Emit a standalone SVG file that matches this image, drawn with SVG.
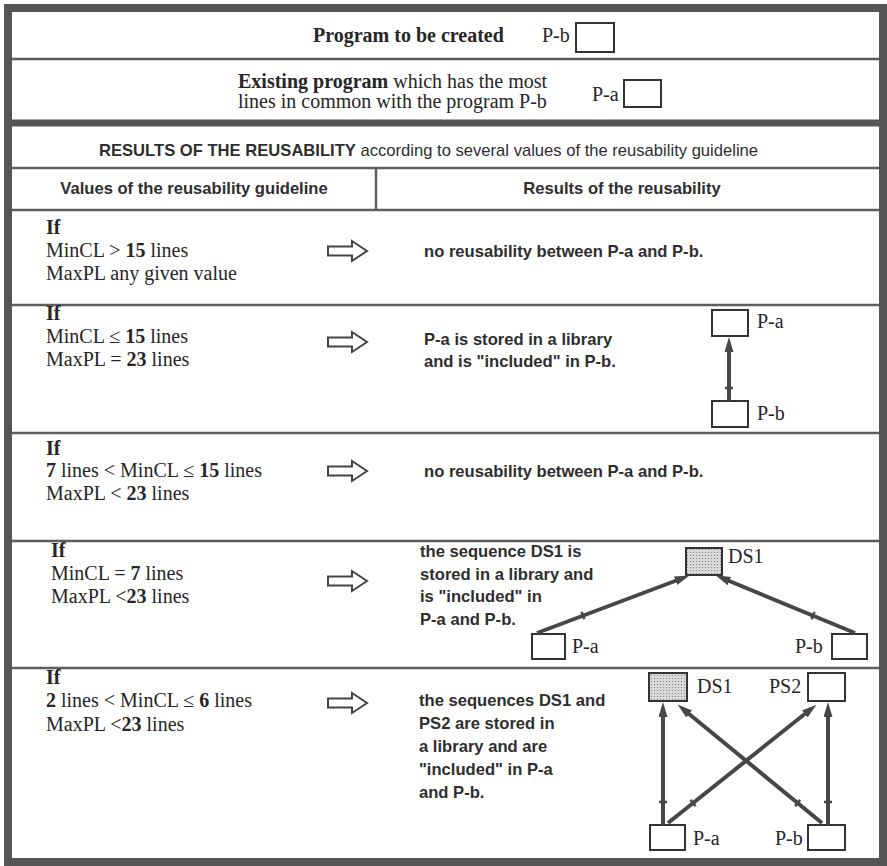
<svg xmlns="http://www.w3.org/2000/svg" width="887" height="866" viewBox="0 0 887 866">
<style>
.serif{font-family:"Liberation Serif","Times New Roman",serif;font-size:20px;fill:#262626}
.sans{font-family:"Liberation Sans",Arial,sans-serif;font-size:16.6px;font-weight:bold;fill:#2e2e2e}
.b{font-weight:bold}
.rule{stroke:#5e5e5e;stroke-width:2.5;fill:none}
.box{fill:#fff;stroke:#333;stroke-width:2}
.shaded{stroke:#333;stroke-width:2}
.hollow{fill:#fff;stroke:#444;stroke-width:2;stroke-linejoin:miter}
.link{stroke:#474747;stroke-width:4;fill:none}
.tick{stroke:#474747;stroke-width:2.5;fill:none}
</style>
<defs>
<marker id="ah" markerWidth="15" markerHeight="9" refX="8" refY="4.5" orient="auto" markerUnits="userSpaceOnUse">
<path d="M0,0 L15,4.5 L0,9 Z" fill="#474747"/>
</marker>
<pattern id="stip" width="3" height="3" patternUnits="userSpaceOnUse">
<rect width="3" height="3" fill="#d8d8d8"/>
<rect width="1" height="1" fill="#8a8a8a"/>
</pattern>
</defs>
<rect width="887" height="866" fill="#fff"/>

<g id="frame">
<rect x="8" y="8" width="875" height="854" fill="none" stroke="#555" stroke-width="8"/>
<line class="rule" x1="12" y1="59" x2="879" y2="59"/>
<line x1="12" y1="123" x2="879" y2="123" stroke="#555" stroke-width="7"/>
<line class="rule" x1="12" y1="168" x2="879" y2="168"/>
<line class="rule" x1="376" y1="168" x2="376" y2="210"/>
<line class="rule" x1="12" y1="210" x2="879" y2="210"/>
<line class="rule" x1="12" y1="305" x2="879" y2="305"/>
<line class="rule" x1="12" y1="433" x2="879" y2="433"/>
<line class="rule" x1="12" y1="541" x2="879" y2="541"/>
<line class="rule" x1="12" y1="668" x2="879" y2="668"/>
</g>

<g id="header-program">
<text class="serif b" x="313" y="42">Program to be created</text>
<text class="serif" x="542" y="42">P-b</text>
<rect class="box" x="576" y="23" width="38" height="29"/>
</g>

<g id="header-existing">
<text class="serif" x="238" y="88"><tspan class="b">Existing program</tspan> which has the most</text>
<text class="serif" x="238" y="108">lines in common with the program P-b</text>
<text class="serif" x="592" y="101">P-a</text>
<rect class="box" x="624" y="80" width="37" height="27"/>
</g>

<g id="header-results">
<text class="sans" x="99" y="156">RESULTS OF THE REUSABILITY<tspan font-weight="normal"> according to several values of the reusability guideline</tspan></text>
<text class="sans" x="194" y="194" text-anchor="middle">Values of the reusability guideline</text>
<text class="sans" x="622" y="194" text-anchor="middle">Results of the reusability</text>
</g>

<g id="row1">
<text class="serif b" x="46" y="234">If</text>
<text class="serif" x="46" y="257">MinCL &gt; <tspan class="b">15</tspan> lines</text>
<text class="serif" x="46" y="280">MaxPL any given value</text>
<path class="hollow" d="M328,246.5 H352 V241 L367,251 L352,261 V255.5 H328 Z"/>
<text class="sans" x="424" y="257">no reusability between P-a and P-b.</text>
</g>

<g id="row2">
<text class="serif b" x="46" y="320">If</text>
<text class="serif" x="46" y="343">MinCL ≤ <tspan class="b">15</tspan> lines</text>
<text class="serif" x="46" y="366">MaxPL = <tspan class="b">23</tspan> lines</text>
<path class="hollow" d="M328,337.5 H352 V332 L367,342 L352,352 V346.5 H328 Z"/>
<text class="sans" x="424" y="345">P-a is stored in a library</text>
<text class="sans" x="424" y="367">and is "included" in P-b.</text>
</g>
<g id="row2-Pa"><rect class="box" x="712" y="310" width="36" height="26"/><text class="serif" x="757" y="328">P-a</text></g>
<g id="row2-Pb"><rect class="box" x="712" y="401" width="36" height="26"/><text class="serif" x="757" y="420">P-b</text></g>

<g id="row3">
<text class="serif b" x="46" y="455">If</text>
<text class="serif" x="46" y="477"><tspan class="b">7</tspan> lines &lt; MinCL ≤ <tspan class="b">15</tspan> lines</text>
<text class="serif" x="46" y="500">MaxPL &lt; <tspan class="b">23</tspan> lines</text>
<path class="hollow" d="M328,466.5 H352 V461 L367,471 L352,481 V475.5 H328 Z"/>
<text class="sans" x="424" y="477">no reusability between P-a and P-b.</text>
</g>

<g id="row4">
<text class="serif b" x="51" y="557">If</text>
<text class="serif" x="51" y="580">MinCL = <tspan class="b">7</tspan> lines</text>
<text class="serif" x="51" y="603">MaxPL &lt;<tspan class="b">23</tspan> lines</text>
<path class="hollow" d="M328,576.5 H352 V571 L367,581 L352,591 V585.5 H328 Z"/>
<text class="sans" x="420" y="557">the sequence DS1 is</text>
<text class="sans" x="420" y="580">stored in a library and</text>
<text class="sans" x="420" y="602">is "included" in</text>
<text class="sans" x="420" y="625">P-a and P-b.</text>
</g>
<g id="row4-DS1"><rect class="shaded" x="686" y="548" width="36" height="27" fill="url(#stip)"/><text class="serif" x="728" y="563">DS1</text></g>
<g id="row4-Pa"><rect class="box" x="532" y="634" width="33" height="25"/><text class="serif" x="572" y="653">P-a</text></g>
<g id="row4-Pb"><rect class="box" x="832" y="634" width="35" height="25"/><text class="serif" x="795" y="653">P-b</text></g>

<g id="row5">
<text class="serif b" x="46" y="684">If</text>
<text class="serif" x="46" y="707"><tspan class="b">2</tspan> lines &lt; MinCL ≤ <tspan class="b">6</tspan> lines</text>
<text class="serif" x="46" y="731">MaxPL &lt;<tspan class="b">23</tspan> lines</text>
<path class="hollow" d="M328,698.5 H352 V693 L367,703 L352,713 V707.5 H328 Z"/>
<text class="sans" x="419" y="706">the sequences DS1 and</text>
<text class="sans" x="419" y="729">PS2 are stored in</text>
<text class="sans" x="419" y="752">a library and are</text>
<text class="sans" x="419" y="775">"included" in P-a</text>
<text class="sans" x="419" y="798">and P-b.</text>
</g>
<g id="row5-DS1"><rect class="shaded" x="649" y="673" width="38" height="28" fill="url(#stip)"/><text class="serif" x="697" y="693">DS1</text></g>
<g id="row5-PS2"><rect class="box" x="808" y="673" width="37" height="28"/><text class="serif" x="769" y="693">PS2</text></g>
<g id="row5-Pa"><rect class="box" x="650" y="825" width="35" height="25"/><text class="serif" x="693" y="845">P-a</text></g>
<g id="row5-Pb"><rect class="box" x="808" y="825" width="37" height="25"/><text class="serif" x="775" y="845">P-b</text></g>

<g id="connectors">
<line class="link" x1="729" y1="401" x2="729" y2="344" marker-end="url(#ah)"/>
<line class="tick" x1="725" y1="388" x2="733" y2="388"/>

<line class="link" x1="537" y1="633" x2="683" y2="578" marker-end="url(#ah)"/>
<line class="tick" x1="581.6" y1="611.9" x2="584.4" y2="619.3"/>
<line class="link" x1="855" y1="633" x2="722" y2="578" marker-end="url(#ah)"/>
<line class="tick" x1="811.5" y1="619.3" x2="814.5" y2="611.9"/>

<line class="link" x1="663" y1="825" x2="663" y2="709" marker-end="url(#ah)"/>
<line class="tick" x1="659" y1="802" x2="667" y2="802"/>
<line class="link" x1="828" y1="825" x2="828" y2="709" marker-end="url(#ah)"/>
<line class="tick" x1="824" y1="802" x2="832" y2="802"/>
<line class="link" x1="668" y1="823" x2="811" y2="709" marker-end="url(#ah)"/>
<line class="tick" x1="690.5" y1="799.9" x2="695.5" y2="806.1"/>
<line class="link" x1="822" y1="823" x2="683" y2="709" marker-end="url(#ah)"/>
<line class="tick" x1="795.1" y1="806.1" x2="800.1" y2="799.9"/>
</g>
</svg>
